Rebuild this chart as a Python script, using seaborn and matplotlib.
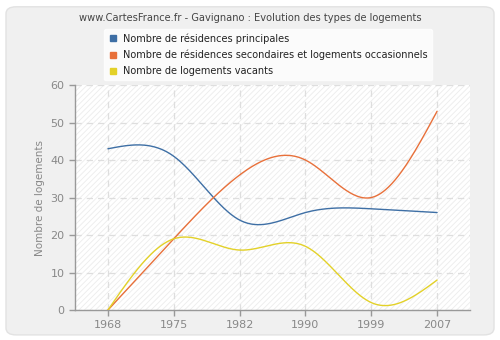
import numpy as np
import pandas as pd
import matplotlib
matplotlib.use("Agg")
import matplotlib.pyplot as plt
import seaborn as sns
from matplotlib.patches import FancyBboxPatch, Rectangle
from matplotlib.lines import Line2D

years = ["1968", "1975", "1982", "1990", "1999", "2007"]
principales = [43, 41, 24, 26, 27, 26]
secondaires = [0, 19, 36, 40, 30, 53]
vacants = [0, 19, 16, 17, 2, 8]

series_names = ["Nombre de résidences principales",
                "Nombre de résidences secondaires et logements occasionnels",
                "Nombre de logements vacants"]
colors = ["#3e6fa5", "#e8703a", "#e3d128"]


def natural_spline(x, y, n=300):
    x = np.asarray(x, float); y = np.asarray(y, float)
    k = len(x)
    h = np.diff(x)
    A = np.zeros((k, k)); b = np.zeros(k)
    A[0, 0] = 1; A[-1, -1] = 1
    for i in range(1, k - 1):
        A[i, i - 1] = h[i - 1]
        A[i, i] = 2 * (h[i - 1] + h[i])
        A[i, i + 1] = h[i]
        b[i] = 3 * ((y[i + 1] - y[i]) / h[i] - (y[i] - y[i - 1]) / h[i - 1])
    c = np.linalg.solve(A, b)
    xs = np.linspace(x[0], x[-1], n)
    ys = np.empty_like(xs)
    for j, xv in enumerate(xs):
        i = min(np.searchsorted(x, xv, side="right") - 1, k - 2)
        dx = xv - x[i]
        bi = (y[i + 1] - y[i]) / h[i] - h[i] * (2 * c[i] + c[i + 1]) / 3
        di = (c[i + 1] - c[i]) / (3 * h[i])
        ys[j] = y[i] + bi * dx + c[i] * dx ** 2 + di * dx ** 3
    return xs, ys


rows = []
for name, vals in zip(series_names, [principales, secondaires, vacants]):
    xs, ys = natural_spline(np.arange(len(years)), vals)
    for xv, yv in zip(xs, ys):
        rows.append({"x": xv, "y": yv, "serie": name})
df = pd.DataFrame(rows)

sns.set_style("white")
plt.rcParams["font.family"] = ["DejaVu Sans"]
plt.rcParams["hatch.linewidth"] = 0.6

fig = plt.figure(figsize=(5, 3.4), dpi=100)
fig.patch.set_facecolor("white")
bg = FancyBboxPatch((0.012, 0.015), 0.976, 0.965, boxstyle="round,pad=0,rounding_size=0.02",
                    transform=fig.transFigure, facecolor="#f0f0f0", edgecolor="#e2e2e2",
                    linewidth=1, zorder=-10)
fig.patches.append(bg)

ax = fig.add_axes([0.15, 0.088, 0.79, 0.662])
ax.set_facecolor("white")
ax.add_patch(Rectangle((0, 0), 1, 1, transform=ax.transAxes, facecolor="white",
                       edgecolor="#ececec", hatch="//////", linewidth=0, zorder=0))

sns.lineplot(data=df, x="x", y="y", hue="serie", palette=colors, ax=ax,
             linewidth=1.0, legend=False, zorder=3, sort=False, estimator=None)

ax.set_xlim(-0.5, 5.5)
ax.set_ylim(0, 60)
ax.set_xticks(range(len(years)))
ax.set_xticklabels(years)
ax.set_yticks(range(0, 61, 10))
ax.grid(True, color="#dedede", linestyle=(0, (5, 4)), linewidth=0.9, zorder=1)
ax.set_axisbelow(True)
for s in ["top", "right"]:
    ax.spines[s].set_visible(False)
for s in ["left", "bottom"]:
    ax.spines[s].set_color("#999999")
    ax.spines[s].set_linewidth(1)
ax.tick_params(axis="both", colors="#999999", labelcolor="#888888", labelsize=8,
               length=4, width=1, direction="out", left=True, bottom=True)
ax.set_xlabel("")
ax.set_ylabel("Nombre de logements", color="#888888", fontsize=7.5)

fig.text(0.5, 0.947, "www.CartesFrance.fr - Gavignano : Evolution des types de logements",
         ha="center", va="center", fontsize=7.1, color="#444444")

handles = [Line2D([], [], marker="s", linestyle="none", markersize=4.5,
                  markerfacecolor=c, markeredgecolor=c) for c in colors]
leg = fig.legend(handles, series_names, loc="upper left", bbox_to_anchor=(0.198, 0.93),
                 frameon=True, fontsize=7, handletextpad=0.5, borderpad=0.45,
                 labelspacing=0.62, handlelength=1.0, fancybox=True)
leg.get_frame().set_facecolor("white")
leg.get_frame().set_edgecolor("white")
for t in leg.get_texts():
    t.set_color("#222222")

fig.savefig("out.png", dpi=100)
